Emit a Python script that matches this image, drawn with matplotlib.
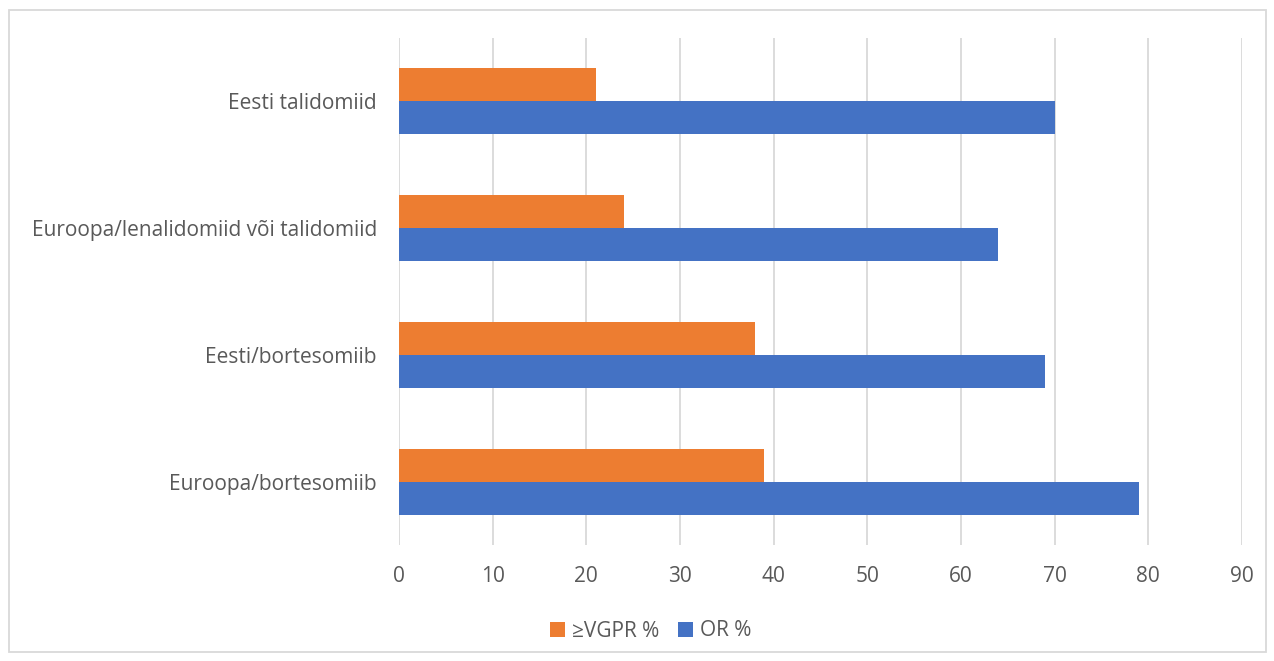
import matplotlib.pyplot as plt
import matplotlib.patches as patches
import numpy as np

categories = ["Eesti talidomiid", "Euroopa/lenalidomiid või talidomiid",
              "Eesti/bortesomiib", "Euroopa/bortesomiib"]
vgpr = [21, 24, 38, 39]
orr = [70, 64, 69, 79]
xticks = [0, 10, 20, 30, 40, 50, 60, 70, 80, 90]

plt.rcParams['font.family'] = ['Open Sans', 'DejaVu Sans']
textColor = '#595959'

fig = plt.figure(figsize=(12.74, 6.61), dpi=100)
ax = fig.add_axes([399 / 1274, 116 / 661, 843 / 1274, 507 / 661])

y = np.arange(len(categories))
h = 0.26
ax.barh(y - h / 2, vgpr, height=h, color='#ED7D31', label='≥VGPR %')
ax.barh(y + h / 2, orr, height=h, color='#4472C4', label='OR %')

ax.set_xlim(0, 90)
ax.set_ylim(len(categories) - 0.5, -0.5)
ax.set_xticks(xticks)
ax.set_yticks(y)
ax.set_yticklabels(categories)
ax.grid(axis='x', color='#d9d9d9', linewidth=1.3)
ax.set_axisbelow(True)
for s in ax.spines.values():
    s.set_visible(False)
ax.tick_params(length=0, labelsize=15, labelcolor=textColor)
ax.tick_params(axis='x', pad=15)
ax.tick_params(axis='y', pad=16)

leg = fig.legend(loc='center', bbox_to_anchor=(651 / 1274, 1 - 631 / 661), ncol=2,
                 frameon=False, fontsize=15, handlelength=0.7, handleheight=0.7,
                 columnspacing=0.9, handletextpad=0.35)
for t in leg.get_texts():
    t.set_color(textColor)

fig.patches.append(patches.Rectangle((9 / 1274, 9 / 661), 1257 / 1274, 642 / 661,
                                     transform=fig.transFigure, fill=False,
                                     edgecolor='#d9d9d9', linewidth=1.3))

fig.savefig('out.png', dpi=100)
